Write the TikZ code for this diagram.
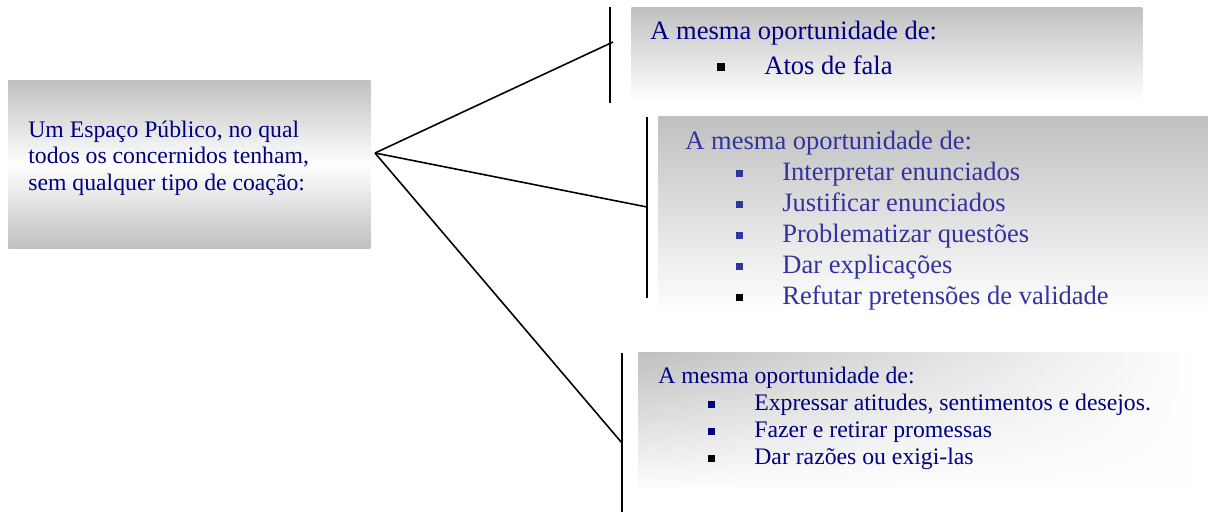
\documentclass[tikz,border=0pt]{standalone}
\usepackage{fontspec}
\setmainfont{Liberation Serif}
\usetikzlibrary{positioning,fadings}
\definecolor{azul}{HTML}{000080}
\definecolor{azulclaro}{HTML}{3333A0}
\definecolor{cinza}{HTML}{C0C0C0}
\tikzset{
  caixa/.style={rectangle, draw=none, inner sep=0pt, anchor=north west},
  texto/.style={anchor=base west, inner sep=0pt, text=#1},
  marca/.style={rectangle, fill=#1, inner sep=0pt, minimum size=0.14cm},
  liga/.style={line width=0.9pt, draw=black},
  grande/.style={font=\fontsize{15.1}{18}\selectfont},
  media/.style={font=\fontsize{13.5}{15.2}\selectfont},
}

\begin{document}
\begin{tikzpicture}[x=0.02cm, y=-0.02cm]
        \useasboundingbox (0,0) rectangle (1208,512);
        % caixas com gradiente
        \node[caixa, minimum width=7.24cm, minimum height=3.36cm,
              top color=cinza, bottom color=cinza, middle color=white] (espaco) at (8,80) {};
        \node[caixa, minimum width=10.22cm, minimum height=1.86cm,
              top color=cinza, bottom color=white] (caixaA) at (631,7) {};
        \node[caixa, minimum width=11cm, minimum height=3.92cm,
              top color=cinza, bottom color=white] (caixaB) at (658,116) {};
        \node[caixa, minimum width=11.24cm, minimum height=2.76cm,
              left color=cinza, right color=white] (caixaC) at (638,352) {};
        \fill[white, path fading=north] (caixaC.north west) rectangle (caixaC.south east);
        % texto da esquerda
        \node[texto=azul, media, align=left, anchor=west] (tese) at (28,158)
          {Um Espaço Público, no qual\\todos os concernidos tenham,\\sem qualquer tipo de coação:};
        % primeira caixa
        \node[texto=azul, grande] (tituloA) at (650,39) {A mesma oportunidade de:};
        \node[marca=black, minimum size=0.16cm] (bA1) at (721,67) {};
        \node[texto=azul, grande] (itemA1) at (764,74) {Atos de fala};
        % segunda caixa
        \node[texto=azulclaro, grande] (tituloB) at (685,149) {A mesma oportunidade de:};
        \foreach \t/\y/\c [count=\i] in {Interpretar enunciados/173/azulclaro,
            Justificar enunciados/204/azulclaro, Problematizar questões/235/azulclaro,
            Dar explicações/266/azulclaro, Refutar pretensões de validade/297/black}{
          \node[marca=\c] (bB\i) at (739,\y) {};
          \node[texto=azulclaro, grande] (itemB\i) at (782,\y+7) {\t};
        }
        % terceira caixa
        \node[texto=azul, media] (tituloC) at (658,383) {A mesma oportunidade de:};
        \foreach \t/\y/\c [count=\i] in {{Expressar atitudes, sentimentos e desejos.}/404/azul,
            Fazer e retirar promessas/431/azul, Dar razões ou exigi-las/458/black}{
          \node[marca=\c] (bC\i) at (711,\y) {};
          \node[texto=azul, media] (itemC\i) at (754,\y+6) {\t};
        }
        % chaves e ligacoes
        \coordinate (apice) at (375,153);
        \coordinate (chaveAtopo) at (610,7);
        \coordinate (chaveAbase) at (610,103);
        \coordinate (fimA) at (613,42);
        \coordinate (chaveBtopo) at (647,117);
        \coordinate (chaveBbase) at (647,298);
        \coordinate (fimB) at (647,207);
        \coordinate (chaveCtopo) at (622,353);
        \coordinate (chaveCbase) at (622,512);
        \coordinate (fimC) at (622,443);
        \draw[liga] (chaveAtopo) -- (chaveAbase);
        \draw[liga] (chaveBtopo) -- (chaveBbase);
        \draw[liga] (chaveCtopo) -- (chaveCbase);
        \draw[liga] (apice) -- (fimA);
        \draw[liga] (apice) -- (fimB);
        \draw[liga] (apice) -- (fimC);
      \end{tikzpicture}
\end{document}
